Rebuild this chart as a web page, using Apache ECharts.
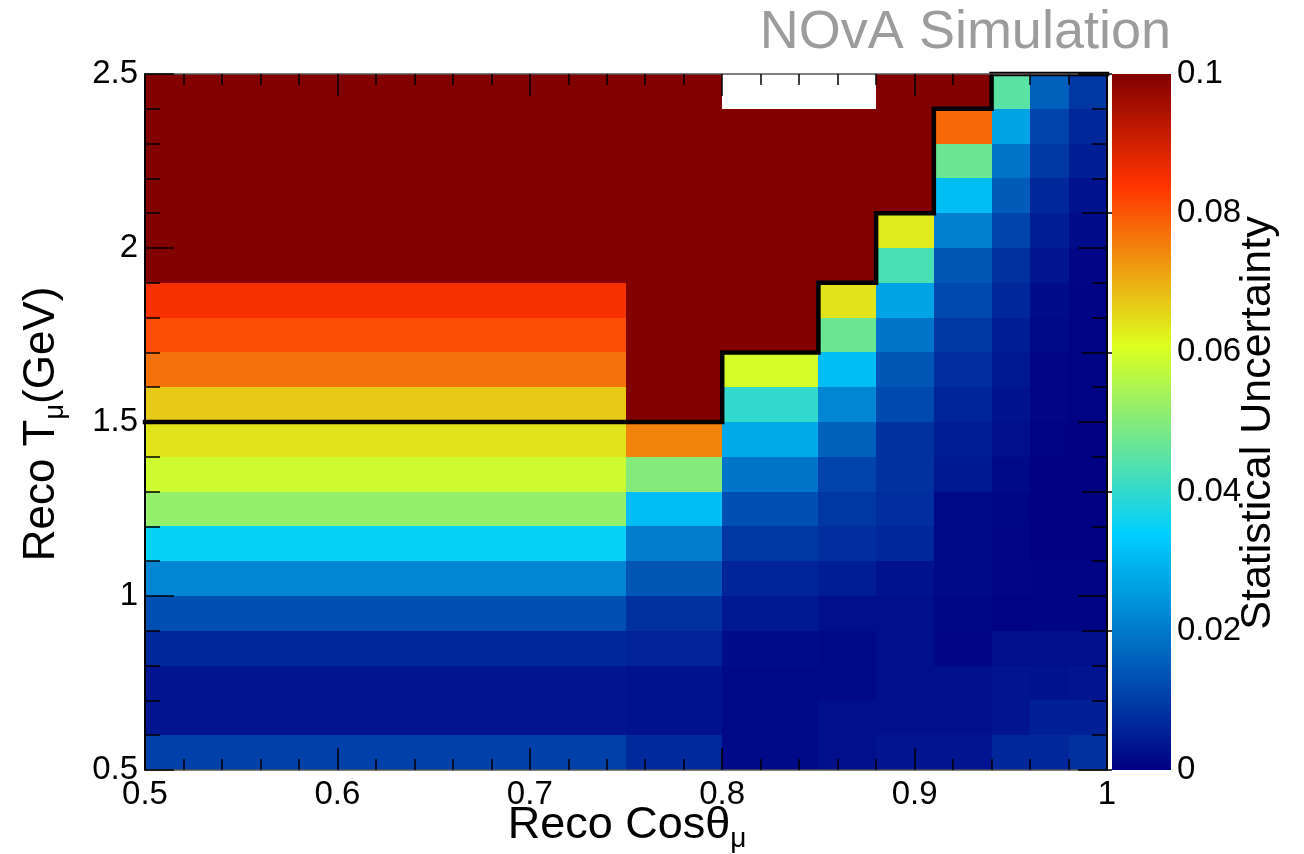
<!DOCTYPE html>
<html>
<head>
<meta charset="utf-8">
<script src="https://cdn.jsdelivr.net/npm/echarts@6/dist/echarts.min.js"></script>
<style>
  html, body { margin: 0; padding: 0; background: #fff; }
  #chart { width: 1304px; height: 854px; }
</style>
</head>
<body>
<div id="chart"></div>
<script>
// ---- Binning ----
const cosThetaEdges = [0.5, 0.75, 0.8, 0.85, 0.88, 0.91, 0.94, 0.96, 0.98, 1.0];
const muonKEEdges = [0.5, 0.6, 0.7, 0.8, 0.9, 1.0, 1.1, 1.2, 1.3, 1.4, 1.5,
                     1.6, 1.7, 1.8, 1.9, 2.0, 2.1, 2.2, 2.3, 2.4, 2.5];

// ---- Statistical uncertainty per cos(theta) column, lowest T bin first ----
// 0.1 marks bins at or above the top of the colour scale, null marks empty bins.
const uncCos050to075 = [0.0105, 0.0035, 0.0035, 0.0065, 0.013, 0.022, 0.035, 0.052, 0.059, 0.064,
                        0.067, 0.077, 0.081, 0.085, 0.1, 0.1, 0.1, 0.1, 0.1, 0.1];
const uncCos075to080 = [0.0068, 0.003, 0.003, 0.0058, 0.008, 0.014, 0.0205, 0.031, 0.05, 0.075,
                        0.1, 0.1, 0.1, 0.1, 0.1, 0.1, 0.1, 0.1, 0.1, 0.1];
const uncCos080to085 = [0.0015, 0.0015, 0.0015, 0.002, 0.004, 0.006, 0.009, 0.013, 0.019, 0.028,
                        0.04, 0.06, 0.1, 0.1, 0.1, 0.1, 0.1, 0.1, 0.1, null];
const uncCos085to088 = [0.0025, 0.0025, 0.0015, 0.0015, 0.0025, 0.005, 0.0075, 0.009, 0.011, 0.016,
                        0.022, 0.031, 0.047, 0.064, 0.1, 0.1, 0.1, 0.1, 0.1, null];
const uncCos088to091 = [0.0035, 0.0025, 0.0025, 0.0025, 0.0025, 0.003, 0.0065, 0.0075, 0.008, 0.008,
                        0.012, 0.014, 0.019, 0.027, 0.043, 0.063, 0.1, 0.1, 0.1, 0.1];
const uncCos091to094 = [0.0035, 0.0025, 0.0025, 0.001, 0.0012, 0.0015, 0.0015, 0.0015, 0.004, 0.005,
                        0.006, 0.0075, 0.009, 0.012, 0.014, 0.021, 0.031, 0.047, 0.078, 0.1];
const uncCos094to096 = [0.0065, 0.0035, 0.0035, 0.0025, 0.0006, 0.001, 0.001, 0.0012, 0.0015, 0.0025,
                        0.003, 0.004, 0.005, 0.0065, 0.008, 0.011, 0.015, 0.019, 0.027, 0.045];
const uncCos096to098 = [0.0065, 0.0055, 0.003, 0.0025, 0.0008, 0.0008, 0.0003, 0.0003, 0.0003, 0.0006,
                        0.001, 0.001, 0.0015, 0.002, 0.0035, 0.005, 0.0065, 0.009, 0.011, 0.016];
const uncCos098to100 = [0.008, 0.0055, 0.0035, 0.0025, 0.0008, 0.0008, 0.0003, 0.0003, 0.0003, 0.0003,
                        0.0005, 0.0005, 0.0005, 0.0008, 0.001, 0.002, 0.003, 0.005, 0.0065, 0.009];

// Upper T edge of the analysis phase space in each cos(theta) column
const phaseSpaceTop = [1.5, 1.5, 1.7, 1.9, 2.1, 2.4, 2.5, 2.5, 2.5];

// ---- Tick labels ----
const xTickLabels = ['0.5', '0.6', '0.7', '0.8', '0.9', '1'];
const yTickLabels = ['0.5', '1', '1.5', '2', '2.5'];
const zTickLabels = ['0', '0.02', '0.04', '0.06', '0.08', '0.1'];

// ---- Colour palette (rainbow, dark blue to dark red) ----
const paletteStops = [0, 0.34, 0.61, 0.84, 1.0];
const paletteRGB = [[0, 0, 130], [0, 207, 255], [222, 255, 31], [255, 51, 0], [130, 0, 0]];
const zMin = 0, zMax = 0.1;

function paletteColor(v) {
  let t = (v - zMin) / (zMax - zMin);
  t = Math.max(0, Math.min(1, t));
  let k = 0;
  while (k < paletteStops.length - 2 && t > paletteStops[k + 1]) k++;
  const f = (t - paletteStops[k]) / (paletteStops[k + 1] - paletteStops[k]);
  const a = paletteRGB[k], b = paletteRGB[k + 1];
  const c = a.map((x, i) => Math.round(x + (b[i] - x) * f));
  return 'rgb(' + c.join(',') + ')';
}

function labelFor(list) {
  return v => {
    const hit = list.find(s => Math.abs(parseFloat(s) - v) < 1e-9);
    return hit === undefined ? '' : hit;
  };
}

// ---- Build cells ----
const columns = [uncCos050to075, uncCos075to080, uncCos080to085, uncCos085to088, uncCos088to091,
                 uncCos091to094, uncCos094to096, uncCos096to098, uncCos098to100];
const cells = [];
columns.forEach((col, i) => {
  col.forEach((v, j) => {
    if (v !== null) {
      cells.push([cosThetaEdges[i], cosThetaEdges[i + 1], muonKEEdges[j], muonKEEdges[j + 1], v]);
    }
  });
});

// Step outline of the phase-space boundary
const boundary = [];
phaseSpaceTop.forEach((t, i) => {
  boundary.push([cosThetaEdges[i], t]);
  boundary.push([cosThetaEdges[i + 1], t]);
});

// ---- Layout ----
const FONT = '"Liberation Sans", Arial, Helvetica, sans-serif';
const plot = { left: 145, top: 74, right: 1107, bottom: 770 };
const bar = { left: 1112, width: 59 };

const measureCtx = document.createElement('canvas').getContext('2d');
function textWidth(str, size) {
  measureCtx.font = size + 'px ' + FONT;
  return measureCtx.measureText(str).width;
}

// Title made of normal text and lowered subscripts, centred at (cx, cy)
function subscriptTitle(parts, size, cx, cy, rotation) {
  const subSize = Math.round(size * 0.62);
  let total = 0;
  const widths = parts.map(p => {
    const w = textWidth(p.text, p.sub ? subSize : size);
    total += w;
    return w;
  });
  let cursor = -total / 2;
  const children = parts.map((p, i) => {
    const el = {
      type: 'text',
      x: cursor,
      y: p.sub ? size * 0.3 : 0,
      style: {
        text: p.text,
        font: (p.sub ? subSize : size) + 'px ' + FONT,
        fill: '#000',
        align: 'left',
        verticalAlign: 'middle'
      }
    };
    cursor += widths[i];
    return el;
  });
  return { type: 'group', x: cx, y: cy, rotation: rotation || 0, children, silent: true };
}

const tickStyle = { color: '#000', width: 1.5 };

function frameAxis(position, isX, showLabels) {
  const major = isX ? 22 : 29;
  const minor = isX ? 11 : 15;
  return {
    gridIndex: 0,
    type: 'value',
    position: position,
    min: 0.5,
    max: isX ? 1.0 : 2.5,
    interval: isX ? 0.1 : 0.5,
    z: 10,
    axisLine: { show: true, onZero: false, lineStyle: { color: (isX ? '#555' : '#000'), width: isX ? 1.5 : 2 } },
    axisTick: { show: true, inside: true, length: major, lineStyle: tickStyle },
    minorTick: { show: true, splitNumber: 5, length: minor, lineStyle: tickStyle },
    splitLine: { show: false },
    minorSplitLine: { show: false },
    axisLabel: {
      show: showLabels,
      color: '#000',
      fontFamily: FONT,
      fontSize: 33,
      margin: isX ? 8 : 7,
      formatter: labelFor(isX ? xTickLabels : yTickLabels)
    }
  };
}

const chart = echarts.init(document.getElementById('chart'), null, { renderer: 'canvas' });

chart.setOption({
  animation: false,
  backgroundColor: '#fff',
  grid: [
    { left: plot.left, top: plot.top, width: plot.right - plot.left, height: plot.bottom - plot.top },
    { left: bar.left, top: plot.top, width: bar.width, height: plot.bottom - plot.top }
  ],
  xAxis: [
    frameAxis('bottom', true, true),
    frameAxis('top', true, false),
    { gridIndex: 1, type: 'value', min: 0, max: 1, show: false }
  ],
  yAxis: [
    frameAxis('left', false, true),
    frameAxis('right', false, false),
    {
      gridIndex: 1,
      type: 'value',
      position: 'right',
      min: zMin,
      max: zMax,
      interval: 0.02,
      z: 10,
      axisLine: { show: false },
      axisTick: { show: true, inside: true, length: 30, lineStyle: { color: '#000', width: 1.5 } },
      splitLine: { show: false },
      axisLabel: {
        color: '#000',
        fontFamily: FONT,
        fontSize: 33,
        margin: 6,
        formatter: labelFor(zTickLabels)
      }
    }
  ],
  series: [
    {
      type: 'custom',
      name: 'Statistical Uncertainty',
      xAxisIndex: 0,
      yAxisIndex: 0,
      encode: { x: [0, 1], y: [2, 3] },
      data: cells,
      z: 2,
      silent: true,
      renderItem: function (params, api) {
        const a = api.coord([api.value(0), api.value(3)]);
        const b = api.coord([api.value(1), api.value(2)]);
        const x = Math.round(a[0]), y = Math.round(a[1]);
        return {
          type: 'rect',
          shape: { x: x, y: y, width: Math.round(b[0]) - x, height: Math.round(b[1]) - y },
          style: { fill: paletteColor(api.value(4)) }
        };
      }
    },
    {
      type: 'line',
      xAxisIndex: 0,
      yAxisIndex: 0,
      data: boundary,
      symbol: 'none',
      clip: false,
      z: 5,
      silent: true,
      lineStyle: { color: '#000', width: 4.5, cap: 'square', join: 'miter' }
    },
    {
      type: 'custom',
      xAxisIndex: 2,
      yAxisIndex: 2,
      encode: { x: [0, 1], y: [2, 3] },
      data: [[0, 1, zMin, zMax]],
      z: 2,
      silent: true,
      renderItem: function (params, api) {
        const a = api.coord([api.value(0), api.value(3)]);
        const b = api.coord([api.value(1), api.value(2)]);
        return {
          type: 'rect',
          shape: { x: a[0], y: a[1], width: b[0] - a[0], height: b[1] - a[1] },
          style: {
            fill: new echarts.graphic.LinearGradient(0, 1, 0, 0,
              paletteStops.map((s, i) => ({ offset: s, color: 'rgb(' + paletteRGB[i].join(',') + ')' })))
          }
        };
      }
    }
  ],
  graphic: [
    {
      type: 'text',
      x: 1171,
      y: 33,
      silent: true,
      style: {
        text: 'NOvA Simulation',
        font: '54px ' + FONT,
        fill: '#9c9c9c',
        align: 'right',
        verticalAlign: 'middle'
      }
    },
    subscriptTitle([{ text: 'Reco Cos\u03b8' }, { text: '\u03bc', sub: true }], 45, 627, 826, 0),
    subscriptTitle([{ text: 'Reco T' }, { text: '\u03bc', sub: true }, { text: '(GeV)' }], 44, 42, 424, Math.PI / 2),
    subscriptTitle([{ text: 'Statistical Uncertainty' }], 43, 1258, 423, Math.PI / 2)
  ]
});
</script>
</body>
</html>
